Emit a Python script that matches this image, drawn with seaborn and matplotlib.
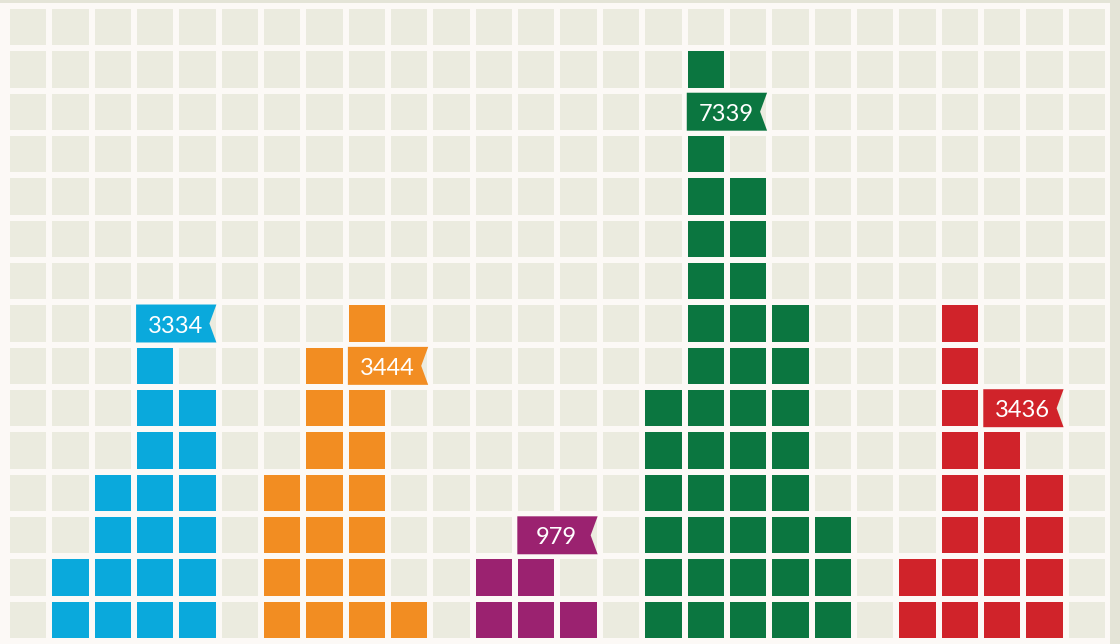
import numpy as np
import pandas as pd
import seaborn as sns
import matplotlib
matplotlib.use("Agg")
import matplotlib.pyplot as plt
from matplotlib.colors import ListedColormap
from matplotlib.patches import Polygon, Rectangle

# ---- data ----
groups = ["blue", "orange", "purple", "green", "red"]
blue_heights = [2, 4, 7, 6]
orange_heights = [4, 7, 8, 1]
purple_heights = [2, 2, 1]
green_heights = [6, 14, 11, 8, 3]
red_heights = [2, 8, 5, 4]
labels = ["3334", "3444", "979", "7339", "3436"]
label_offset = [2, 2, 1, 1, 2]   # column within group where the flag starts
label_row = [8, 7, 3, 13, 6]     # row (from bottom, 1-based) of the flag

colors = ["#0AA9DC", "#F28D22", "#9B2270", "#0B7640", "#D0232A"]
cell_bg = "#EBEBDF"
page_bg = "#FCF9F6"
strip = "#E4E4D7"

n_rows = 15
n_cols = 26

all_heights = [blue_heights, orange_heights, purple_heights, green_heights, red_heights]

# build grid matrix (0 = empty cell, k = group k)
grid = np.zeros((n_rows, n_cols), dtype=int)
starts = []
col = 1
for k, hs in enumerate(all_heights):
    starts.append(col)
    for h in hs:
        grid[n_rows - h:, col] = k + 1
        col += 1
    col += 1
df = pd.DataFrame(grid)

W, H = 1120, 644
fig = plt.figure(figsize=(W / 100, H / 100), dpi=100)
fig.patch.set_facecolor(page_bg)
# top & right page strips
fig.patches.append(Rectangle((0, (H - 3) / H), 1, 3 / H, transform=fig.transFigure,
                             facecolor=strip, edgecolor="none", zorder=0))
fig.patches.append(Rectangle((1110 / W, 0), 10 / W, 1, transform=fig.transFigure,
                             facecolor=strip, edgecolor="none", zorder=0))

pitch = 42.36
gap = 4.4
left = 9 - gap / 2
top = 8 - gap / 2
ax = fig.add_axes([left / W, (H - top - n_rows * pitch) / H,
                   n_cols * pitch / W, n_rows * pitch / H])
ax.set_facecolor(page_bg)

cmap = ListedColormap([cell_bg] + colors)
sns.heatmap(df, cmap=cmap, vmin=-0.5, vmax=len(colors) + 0.5, cbar=False,
            linewidths=gap * 72 / 100, linecolor=page_bg, ax=ax,
            xticklabels=False, yticklabels=False)
ax.set_xlabel("")
ax.set_ylabel("")
for s in ax.spines.values():
    s.set_visible(False)

g = gap / pitch / 2
notch = 7 / pitch
for k, text in enumerate(labels):
    c = starts[k] + label_offset[k]
    r = n_rows - label_row[k]
    x0, x1 = c + g, c + 2 - g
    y0, y1 = r + g, r + 1 - g
    poly = Polygon([(x0, y0), (x1, y0), (x1 - notch, (y0 + y1) / 2), (x1, y1), (x0, y1)],
                   closed=True, facecolor=colors[k], edgecolor="none", zorder=5)
    ax.add_patch(poly)
    ax.text((x0 + x1) / 2 - 0.02, (y0 + y1) / 2 + 0.06, text, color="white",
            ha="center", va="center", fontsize=17, family=["Lato", "DejaVu Sans"],
            zorder=6)

fig.savefig("out.png", dpi=100, facecolor=fig.get_facecolor())
